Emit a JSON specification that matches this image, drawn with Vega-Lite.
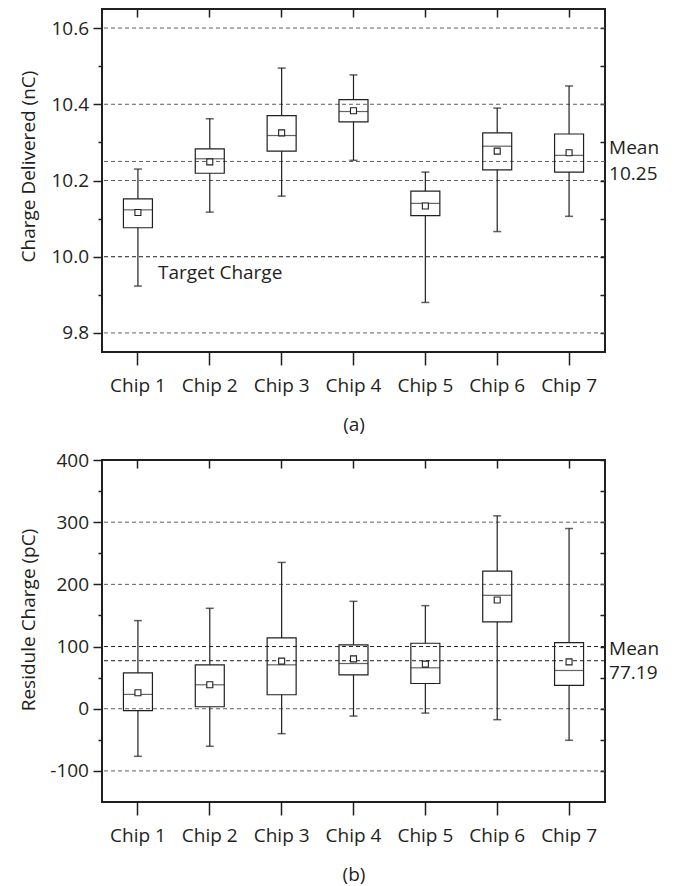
{
  "$schema": "https://vega.github.io/schema/vega-lite/v6.json",
  "padding": {"left": 18, "top": 7, "right": 5, "bottom": 5},
  "bounds": "flush",
  "spacing": 108,
  "config": {
    "font": "Open Sans",
    "view": {"stroke": "#231f20", "strokeWidth": 2},
    "axis": {
      "labelFont": "Open Sans", "titleFont": "Open Sans",
      "labelFontSize": 19, "titleFontSize": 19, "titleFontWeight": "normal",
      "labelColor": "#231f20", "titleColor": "#231f20",
      "tickColor": "#231f20", "tickWidth": 1.5, "domain": false, "grid": false
    },
    "text": {"font": "Open Sans", "fontSize": 19, "color": "#231f20"}
  },
  "datasets": {
    "a": [
      {"chip": "Chip 1", "lo": 9.923, "q1": 10.076, "med": 10.123, "mean": 10.116, "q3": 10.152, "hi": 10.230},
      {"chip": "Chip 2", "lo": 10.117, "q1": 10.219, "med": 10.257, "mean": 10.249, "q3": 10.283, "hi": 10.362},
      {"chip": "Chip 3", "lo": 10.159, "q1": 10.277, "med": 10.318, "mean": 10.325, "q3": 10.370, "hi": 10.495},
      {"chip": "Chip 4", "lo": 10.253, "q1": 10.354, "med": 10.381, "mean": 10.383, "q3": 10.412, "hi": 10.477},
      {"chip": "Chip 5", "lo": 9.880, "q1": 10.108, "med": 10.140, "mean": 10.133, "q3": 10.172, "hi": 10.222},
      {"chip": "Chip 6", "lo": 10.066, "q1": 10.228, "med": 10.290, "mean": 10.277, "q3": 10.325, "hi": 10.390},
      {"chip": "Chip 7", "lo": 10.106, "q1": 10.222, "med": 10.266, "mean": 10.273, "q3": 10.322, "hi": 10.448}
    ],
    "b": [
      {"chip": "Chip 1", "lo": -76.5, "q1": -3.2, "med": 23, "mean": 25.7, "q3": 57.8, "hi": 141.7},
      {"chip": "Chip 2", "lo": -60.4, "q1": 3.2, "med": 38.5, "mean": 38.5, "q3": 70.6, "hi": 161.5},
      {"chip": "Chip 3", "lo": -40.1, "q1": 22.5, "med": 70.6, "mean": 76.5, "q3": 113.9, "hi": 235.3},
      {"chip": "Chip 4", "lo": -11.8, "q1": 54.5, "med": 72.7, "mean": 80.2, "q3": 102.7, "hi": 172.7},
      {"chip": "Chip 5", "lo": -7, "q1": 40.6, "med": 65.8, "mean": 71.7, "q3": 105.3, "hi": 165.8},
      {"chip": "Chip 6", "lo": -17.6, "q1": 139.6, "med": 182.4, "mean": 174.9, "q3": 221.4, "hi": 310.2},
      {"chip": "Chip 7", "lo": -50.8, "q1": 37.4, "med": 61.5, "mean": 75.4, "q3": 106.4, "hi": 289.8}
    ],
    "grid_a": [
      {"value": 9.8, "kind": "grid"},
      {"value": 10.0, "kind": "ref"},
      {"value": 10.2, "kind": "grid"},
      {"value": 10.25, "kind": "grid"},
      {"value": 10.4, "kind": "grid"},
      {"value": 10.6, "kind": "grid"}
    ],
    "grid_b": [
      {"value": -100, "kind": "grid"},
      {"value": 0, "kind": "grid"},
      {"value": 77.19, "kind": "ref"},
      {"value": 100, "kind": "ref"},
      {"value": 200, "kind": "grid"},
      {"value": 300, "kind": "grid"}
    ],
    "target_a": [{"chip": "Chip 1", "value": 10.0, "label": "Target Charge"}],
    "mean_a": [{"chip": "Chip 7", "value": 10.25, "label": "Mean\n10.25"}],
    "mean_b": [{"chip": "Chip 7", "value": 77.19, "label": "Mean\n77.19"}]
  },
  "vconcat": [
    {
      "width": 503,
      "height": 343,
      "resolve": {"axis": {"x": "independent", "y": "independent"}},
      "layer": [
        {
          "data": {"name": "grid_a"},
          "mark": {"type": "rule", "strokeDash": [4, 3], "strokeWidth": 1},
          "encoding": {
            "y": {"field": "value", "type": "quantitative",
              "scale": {"domain": [9.75, 10.65], "nice": false, "zero": false},
              "axis": {"orient": "left", "values": [9.8, 10.0, 10.2, 10.4, 10.6], "format": ".1f", "tickSize": 9, "labelPadding": 4.5,
                "title": "Charge Delivered (nC)", "titleX": -68, "titleY": 157, "titleBaseline": "alphabetic"}},
            "color": {"field": "kind", "type": "nominal", "scale": {"domain": ["grid", "ref"], "range": ["#5f6062", "#231f20"]}, "legend": null}
          }
        },
        {
          "data": {"name": "a"},
          "mark": {"type": "rule", "color": "#231f20", "strokeWidth": 1.2},
          "encoding": {
            "x": {"field": "chip", "type": "nominal", "scale": {"type": "band", "paddingInner": 0, "paddingOuter": 0},
              "axis": {"orient": "bottom", "tickSize": 13, "labelPadding": 11, "labelAngle": 0, "title": "(a)", "titleY": 78, "titleBaseline": "alphabetic"}},
            "y": {"field": "lo", "type": "quantitative", "scale": {"domain": [9.75, 10.65], "nice": false, "zero": false},
              "axis": {"orient": "left", "values": [9.9, 10.1, 10.3, 10.5], "tickSize": 4, "labels": false, "title": null}},
            "y2": {"field": "q1"}
          }
        },
        {
          "data": {"name": "a"},
          "mark": {"type": "rule", "color": "#231f20", "strokeWidth": 1.2},
          "encoding": {
            "x": {"field": "chip", "type": "nominal", "scale": {"type": "band", "paddingInner": 0, "paddingOuter": 0},
              "axis": {"orient": "top", "tickSize": -8, "labels": false, "title": null}},
            "y": {"field": "q3", "type": "quantitative", "scale": {"domain": [9.75, 10.65], "nice": false, "zero": false},
              "axis": {"orient": "right", "values": [9.8, 9.9, 10.0, 10.1, 10.2, 10.3, 10.4, 10.5, 10.6], "tickSize": -5, "labels": false, "title": null}},
            "y2": {"field": "hi"}
          }
        },
        {
          "data": {"name": "a"},
          "mark": {"type": "tick", "color": "#231f20", "size": 8, "thickness": 1.5},
          "encoding": {
            "x": {"field": "chip", "type": "nominal", "scale": {"type": "band", "paddingInner": 0, "paddingOuter": 0}, "axis": null},
            "y": {"field": "lo", "type": "quantitative", "scale": {"domain": [9.75, 10.65], "nice": false, "zero": false}, "axis": null}
          }
        },
        {
          "data": {"name": "a"},
          "mark": {"type": "tick", "color": "#231f20", "size": 8, "thickness": 1.5},
          "encoding": {
            "x": {"field": "chip", "type": "nominal", "scale": {"type": "band", "paddingInner": 0, "paddingOuter": 0}, "axis": null},
            "y": {"field": "hi", "type": "quantitative", "scale": {"domain": [9.75, 10.65], "nice": false, "zero": false}, "axis": null}
          }
        },
        {
          "data": {"name": "a"},
          "mark": {"type": "bar", "size": 29, "fill": "transparent", "stroke": "#231f20", "strokeWidth": 1.2},
          "encoding": {
            "x": {"field": "chip", "type": "nominal", "scale": {"type": "band", "paddingInner": 0, "paddingOuter": 0}, "axis": null},
            "y": {"field": "q1", "type": "quantitative", "scale": {"domain": [9.75, 10.65], "nice": false, "zero": false}, "axis": null},
            "y2": {"field": "q3"}
          }
        },
        {
          "data": {"name": "a"},
          "mark": {"type": "tick", "color": "#231f20", "size": 29, "thickness": 1.2},
          "encoding": {
            "x": {"field": "chip", "type": "nominal", "scale": {"type": "band", "paddingInner": 0, "paddingOuter": 0}, "axis": null},
            "y": {"field": "med", "type": "quantitative", "scale": {"domain": [9.75, 10.65], "nice": false, "zero": false}, "axis": null}
          }
        },
        {
          "data": {"name": "a"},
          "mark": {"type": "point", "shape": "square", "size": 36, "filled": true, "fill": "white", "stroke": "#231f20", "strokeWidth": 1.1, "opacity": 1},
          "encoding": {
            "x": {"field": "chip", "type": "nominal", "scale": {"type": "band", "paddingInner": 0, "paddingOuter": 0}, "axis": null},
            "y": {"field": "mean", "type": "quantitative", "scale": {"domain": [9.75, 10.65], "nice": false, "zero": false}, "axis": null}
          }
        },
        {
          "data": {"name": "target_a"},
          "mark": {"type": "text", "align": "left", "baseline": "middle", "dx": 20, "dy": 16},
          "encoding": {
            "x": {"field": "chip", "type": "nominal", "scale": {"type": "band", "paddingInner": 0, "paddingOuter": 0}, "axis": null},
            "y": {"field": "value", "type": "quantitative", "scale": {"domain": [9.75, 10.65], "nice": false, "zero": false}, "axis": null},
            "text": {"field": "label"}
          }
        },
        {
          "data": {"name": "mean_a"},
          "mark": {"type": "text", "align": "left", "baseline": "middle", "dx": 40, "dy": -13, "lineBreak": "\n", "lineHeight": 26, "clip": false},
          "encoding": {
            "x": {"field": "chip", "type": "nominal", "scale": {"type": "band", "paddingInner": 0, "paddingOuter": 0}, "axis": null},
            "y": {"field": "value", "type": "quantitative", "scale": {"domain": [9.75, 10.65], "nice": false, "zero": false}, "axis": null},
            "text": {"field": "label"}
          }
        }
      ]
    },
    {
      "width": 503,
      "height": 342,
      "resolve": {"axis": {"x": "independent", "y": "independent"}},
      "layer": [
        {
          "data": {"name": "grid_b"},
          "mark": {"type": "rule", "strokeDash": [4, 3], "strokeWidth": 1},
          "encoding": {
            "y": {"field": "value", "type": "quantitative",
              "scale": {"domain": [-150, 400], "nice": false, "zero": false},
              "axis": {"orient": "left", "values": [-100, 0, 100, 200, 300, 400], "labelExpr": "datum.value + ''", "tickSize": 9, "labelPadding": 4.5,
                "title": "Residule Charge (pC)", "titleX": -68, "titleY": 159.5, "titleBaseline": "alphabetic"}},
            "color": {"field": "kind", "type": "nominal", "scale": {"domain": ["grid", "ref"], "range": ["#5f6062", "#231f20"]}, "legend": null}
          }
        },
        {
          "data": {"name": "b"},
          "mark": {"type": "rule", "color": "#231f20", "strokeWidth": 1.2},
          "encoding": {
            "x": {"field": "chip", "type": "nominal", "scale": {"type": "band", "paddingInner": 0, "paddingOuter": 0},
              "axis": {"orient": "bottom", "tickSize": 13, "labelPadding": 11, "labelAngle": 0, "title": "(b)", "titleY": 78, "titleBaseline": "alphabetic"}},
            "y": {"field": "lo", "type": "quantitative", "scale": {"domain": [-150, 400], "nice": false, "zero": false},
              "axis": {"orient": "left", "values": [-50, 50, 150, 250, 350], "tickSize": 4, "labels": false, "title": null}},
            "y2": {"field": "q1"}
          }
        },
        {
          "data": {"name": "b"},
          "mark": {"type": "rule", "color": "#231f20", "strokeWidth": 1.2},
          "encoding": {
            "x": {"field": "chip", "type": "nominal", "scale": {"type": "band", "paddingInner": 0, "paddingOuter": 0},
              "axis": {"orient": "top", "tickSize": -8, "labels": false, "title": null}},
            "y": {"field": "q3", "type": "quantitative", "scale": {"domain": [-150, 400], "nice": false, "zero": false},
              "axis": {"orient": "right", "values": [-100, -50, 0, 50, 100, 150, 200, 250, 300, 350, 400], "tickSize": -5, "labels": false, "title": null}},
            "y2": {"field": "hi"}
          }
        },
        {
          "data": {"name": "b"},
          "mark": {"type": "tick", "color": "#231f20", "size": 8, "thickness": 1.5},
          "encoding": {
            "x": {"field": "chip", "type": "nominal", "scale": {"type": "band", "paddingInner": 0, "paddingOuter": 0}, "axis": null},
            "y": {"field": "lo", "type": "quantitative", "scale": {"domain": [-150, 400], "nice": false, "zero": false}, "axis": null}
          }
        },
        {
          "data": {"name": "b"},
          "mark": {"type": "tick", "color": "#231f20", "size": 8, "thickness": 1.5},
          "encoding": {
            "x": {"field": "chip", "type": "nominal", "scale": {"type": "band", "paddingInner": 0, "paddingOuter": 0}, "axis": null},
            "y": {"field": "hi", "type": "quantitative", "scale": {"domain": [-150, 400], "nice": false, "zero": false}, "axis": null}
          }
        },
        {
          "data": {"name": "b"},
          "mark": {"type": "bar", "size": 29, "fill": "transparent", "stroke": "#231f20", "strokeWidth": 1.2},
          "encoding": {
            "x": {"field": "chip", "type": "nominal", "scale": {"type": "band", "paddingInner": 0, "paddingOuter": 0}, "axis": null},
            "y": {"field": "q1", "type": "quantitative", "scale": {"domain": [-150, 400], "nice": false, "zero": false}, "axis": null},
            "y2": {"field": "q3"}
          }
        },
        {
          "data": {"name": "b"},
          "mark": {"type": "tick", "color": "#231f20", "size": 29, "thickness": 1.2},
          "encoding": {
            "x": {"field": "chip", "type": "nominal", "scale": {"type": "band", "paddingInner": 0, "paddingOuter": 0}, "axis": null},
            "y": {"field": "med", "type": "quantitative", "scale": {"domain": [-150, 400], "nice": false, "zero": false}, "axis": null}
          }
        },
        {
          "data": {"name": "b"},
          "mark": {"type": "point", "shape": "square", "size": 36, "filled": true, "fill": "white", "stroke": "#231f20", "strokeWidth": 1.1, "opacity": 1},
          "encoding": {
            "x": {"field": "chip", "type": "nominal", "scale": {"type": "band", "paddingInner": 0, "paddingOuter": 0}, "axis": null},
            "y": {"field": "mean", "type": "quantitative", "scale": {"domain": [-150, 400], "nice": false, "zero": false}, "axis": null}
          }
        },
        {
          "data": {"name": "mean_b"},
          "mark": {"type": "text", "align": "left", "baseline": "middle", "dx": 40, "dy": -12, "lineBreak": "\n", "lineHeight": 24, "clip": false},
          "encoding": {
            "x": {"field": "chip", "type": "nominal", "scale": {"type": "band", "paddingInner": 0, "paddingOuter": 0}, "axis": null},
            "y": {"field": "value", "type": "quantitative", "scale": {"domain": [-150, 400], "nice": false, "zero": false}, "axis": null},
            "text": {"field": "label"}
          }
        }
      ]
    }
  ]
}
